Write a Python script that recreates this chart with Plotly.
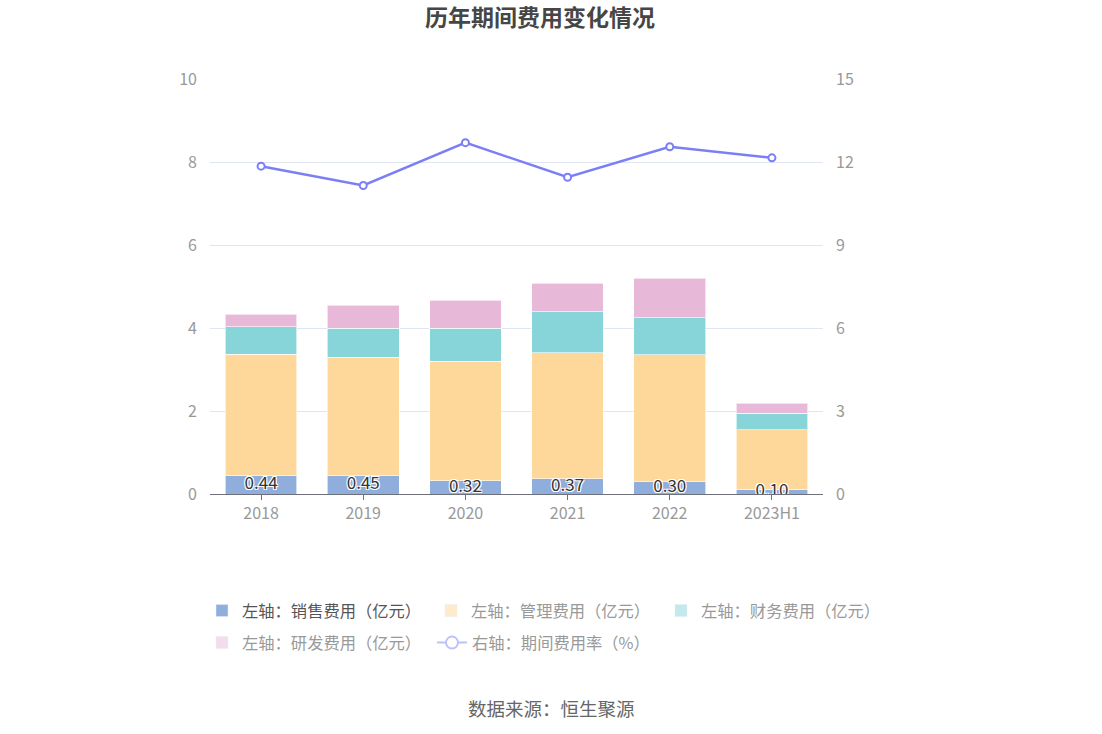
import plotly.graph_objects as go

categories = ["2018", "2019", "2020", "2021", "2022", "2023H1"]
sales = [0.44, 0.45, 0.32, 0.37, 0.30, 0.10]
admin = [2.93, 2.84, 2.88, 3.03, 3.05, 1.45]
finance = [0.66, 0.71, 0.79, 0.99, 0.90, 0.39]
rnd = [0.30, 0.55, 0.68, 0.69, 0.95, 0.25]
rate = [11.85, 11.15, 12.70, 11.45, 12.55, 12.15]

names = ["左轴：销售费用（亿元）", "左轴：管理费用（亿元）", "左轴：财务费用（亿元）",
         "左轴：研发费用（亿元）", "右轴：期间费用率（%）"]
bar_colors = ["#8FAEDC", "#FED89B", "#87D5D9", "#E8B8D8"]
legend_colors = ["#8FAEDC", "#FFEBCC", "#C2E9EB", "#F3DDEC"]
line_color = "#7B7FF5"
FONT = "Noto Sans CJK SC"

fig = go.Figure()
for vals, name, col in zip([sales, admin, finance, rnd], names[:4], bar_colors):
    fig.add_trace(go.Bar(x=categories, y=vals, name=name, marker_color=col,
                         marker_line=dict(color="rgba(255,255,255,0.6)", width=1),
                         showlegend=False, yaxis="y"))

fig.add_trace(go.Scatter(x=categories, y=rate, name=names[4], mode="lines+markers",
                         line=dict(color=line_color, width=2.5),
                         marker=dict(symbol="circle", size=7, color="white",
                                     line=dict(color=line_color, width=2)),
                         showlegend=False, yaxis="y2"))

# labels on sales segment
fig.add_trace(go.Scatter(x=categories, y=[v / 2 for v in sales],
                         text=[f"{v:.2f}" for v in sales], mode="text",
                         textposition="middle center",
                         textfont=dict(family=FONT, size=17, color="#333333",
                                       shadow="1px 1px 0 #fff, -1px -1px 0 #fff, 1px -1px 0 #fff, -1px 1px 0 #fff"),
                         showlegend=False, hoverinfo="skip", yaxis="y"))

# legend entries
legend_ids = ["legend", "legend2", "legend2", "legend3"]
for name, col, lg in zip(names[:4], legend_colors, legend_ids):
    fig.add_trace(go.Bar(x=[None], y=[None], name=name, marker_color=col,
                         showlegend=True, legend=lg))
fig.add_trace(go.Scatter(x=[None], y=[None], name=names[4], mode="lines+markers",
                         line=dict(color="#BFC1FA", width=2),
                         marker=dict(symbol="circle", size=12, color="white",
                                     line=dict(color="#BFC1FA", width=2)),
                         showlegend=True, legend="legend3"))

W, H = 1102, 734
L, T = 210, 79
pw, ph = 613, 415
R = W - L - pw
B = H - T - ph


def px_x(x):
    return (x - L) / pw


def px_y(y):
    return (H - B - y) / ph


leg_common = dict(orientation="h", xanchor="left", yanchor="middle",
                  bgcolor="rgba(0,0,0,0)", borderwidth=0, traceorder="normal",
                  entrywidth=185, entrywidthmode="pixels",
                  itemwidth=30, tracegroupgap=0)

fig.update_layout(
    width=W, height=H,
    margin=dict(l=L, r=R, t=T, b=B),
    paper_bgcolor="white", plot_bgcolor="white",
    barmode="stack", bargap=0.3,
    font=dict(family=FONT, color="#999999", size=15),
    title=dict(text="<b>历年期间费用变化情况</b>", x=540 / W, xanchor="center",
               xref="container", y=1 - 18 / H, yanchor="middle", yref="container",
               font=dict(family=FONT, size=23, color="#464646")),
    xaxis=dict(type="category", showline=True, linecolor="#6E7079", linewidth=1,
               ticks="outside", ticklen=5, tickcolor="#6E7079", showgrid=False,
               tickfont=dict(size=16, color="#999999")),
    yaxis=dict(range=[0, 10], dtick=2, showgrid=True, gridcolor="#E0E6F1",
               zeroline=False, showline=False, ticks="", ticklabelstandoff=12,
               tickfont=dict(size=16, color="#999999")),
    yaxis2=dict(range=[0, 15], dtick=3, overlaying="y", side="right", showgrid=False,
                zeroline=False, showline=False, ticks="", ticklabelstandoff=12,
                tickfont=dict(size=16, color="#999999")),
    legend=dict(x=px_x(202), y=px_y(611), font=dict(size=16.3, color="#555555"), **leg_common),
    legend2=dict(x=px_x(431), y=px_y(611), font=dict(size=16.3, color="#999999"), **leg_common),
    legend3=dict(x=px_x(202), y=px_y(643), font=dict(size=16.3, color="#999999"), **leg_common),
    annotations=[dict(text="数据来源：恒生聚源", xref="paper", yref="paper",
                      x=px_x(551), y=px_y(708), xanchor="center", yanchor="middle",
                      showarrow=False, font=dict(family=FONT, size=18.5, color="#666666"))],
)

fig.write_html("out.html", config={"displayModeBar": False},
               post_script="document.body.style.margin='0px';document.body.style.overflow='hidden';")
